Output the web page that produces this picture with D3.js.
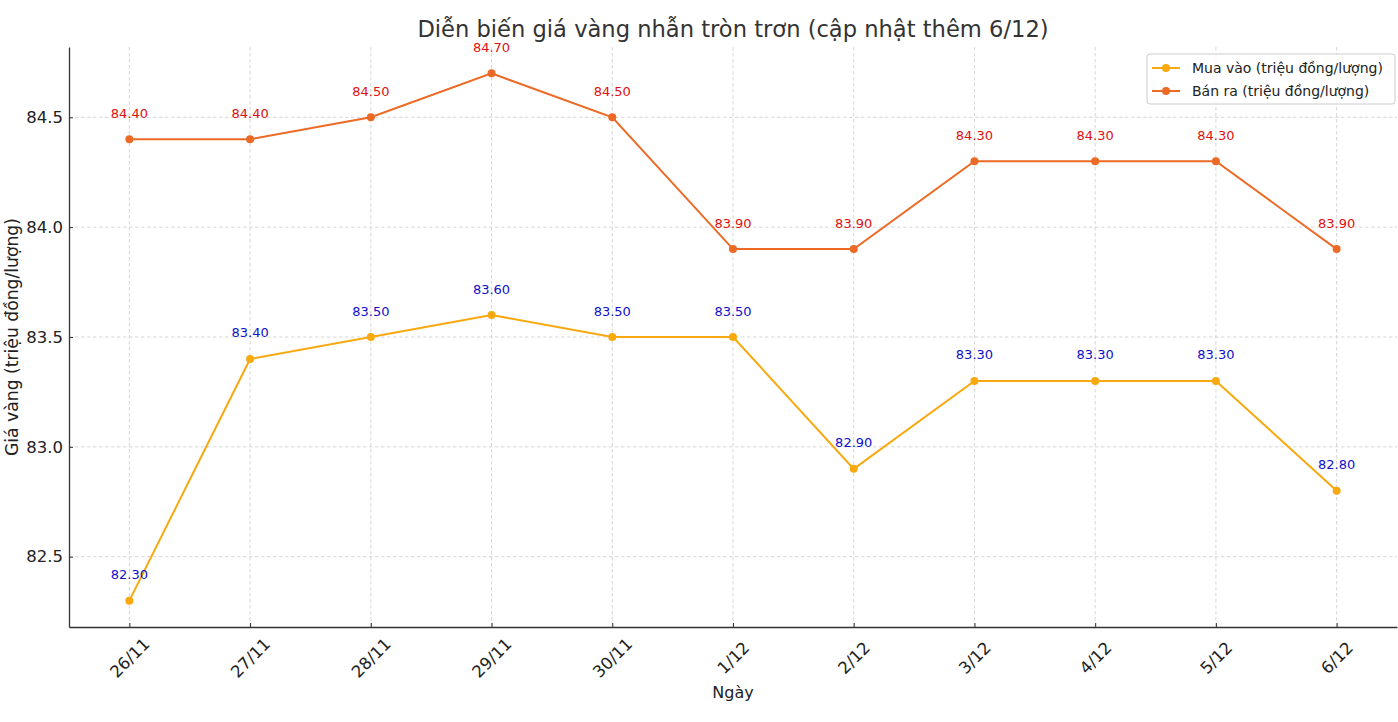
<!DOCTYPE html>
<html>
<head>
<meta charset="utf-8">
<script src="https://cdn.jsdelivr.net/npm/d3@7"></script>
<style>
  body { margin: 0; background: #fff; }
  text { font-family: "DejaVu Sans", sans-serif; }
</style>
</head>
<body>
<svg id="chart" width="1398" height="722"></svg>
<script>
const categories = ["26/11","27/11","28/11","29/11","30/11","1/12","2/12","3/12","4/12","5/12","6/12"];
const buyValues = [82.3, 83.4, 83.5, 83.6, 83.5, 83.5, 82.9, 83.3, 83.3, 83.3, 82.8];
const sellValues = [84.4, 84.4, 84.5, 84.7, 84.5, 83.9, 83.9, 84.3, 84.3, 84.3, 83.9];
const yTicks = [82.5, 83.0, 83.5, 84.0, 84.5];
const seriesNames = ["Mua vào (triệu đồng/lượng)", "Bán ra (triệu đồng/lượng)"];
const titleText = "Diễn biến giá vàng nhẫn tròn trơn (cập nhật thêm 6/12)";
const xLabel = "Ngày";
const yLabel = "Giá vàng (triệu đồng/lượng)";

const svg = d3.select("#chart");
const m = {left: 69, right: 1397, top: 47, bottom: 627};

const x = d3.scaleLinear().domain([-0.5, categories.length - 0.5]).range([m.left, m.right]);
const allV = buyValues.concat(sellValues);
const vmin = d3.min(allV), vmax = d3.max(allV), pad = (vmax - vmin) * 0.05;
const y = d3.scaleLinear().domain([vmin - pad, vmax + pad]).range([m.bottom, m.top]);

// grid
const grid = svg.append("g");
categories.forEach((c, i) => {
  grid.append("line").attr("x1", x(i)).attr("x2", x(i)).attr("y1", m.top).attr("y2", m.bottom)
    .attr("stroke", "#cccccc").attr("stroke-width", 0.8).attr("stroke-dasharray", "3.5,2.5");
});
yTicks.forEach(t => {
  grid.append("line").attr("x1", m.left).attr("x2", m.right).attr("y1", y(t)).attr("y2", y(t))
    .attr("stroke", "#cccccc").attr("stroke-width", 0.8).attr("stroke-dasharray", "3.5,2.5");
});

// axes
const xAxis = d3.axisBottom(x).tickValues(d3.range(categories.length))
  .tickFormat(i => categories[i]).tickSizeInner(-4).tickSizeOuter(0).tickPadding(8);
const gx = svg.append("g").attr("transform", `translate(0,${m.bottom})`).call(xAxis);
gx.select(".domain").attr("stroke", "#333").attr("stroke-width", 1.3);
gx.selectAll(".tick line").attr("stroke", "#333");
gx.selectAll(".tick text").attr("font-size", 16.5).attr("fill", "#222")
  .attr("text-anchor", "middle").attr("dy", null).attr("y", 0)
  .attr("transform", "translate(0,31) rotate(-45)")
  .attr("dominant-baseline", "central");

const yAxis = d3.axisLeft(y).tickValues(yTicks).tickFormat(d3.format(".1f"))
  .tickSizeInner(-4).tickSizeOuter(0).tickPadding(6);
const gy = svg.append("g").attr("transform", `translate(${m.left},0)`).call(yAxis);
gy.select(".domain").attr("stroke", "#333").attr("stroke-width", 1.3);
gy.selectAll(".tick line").attr("stroke", "#333");
gy.selectAll(".tick text").attr("font-size", 16.5).attr("fill", "#222");

// series
const series = [
  {name: seriesNames[0], values: buyValues, color: "#F8A90F", label: "#1010CC"},
  {name: seriesNames[1], values: sellValues, color: "#EC6A25", label: "#E01010"}
];
const line = d3.line().x((d, i) => x(i)).y(d => y(d));
series.forEach(s => {
  svg.append("path").datum(s.values).attr("d", line).attr("fill", "none")
    .attr("stroke", s.color).attr("stroke-width", 2);
  svg.append("g").selectAll("circle").data(s.values).join("circle")
    .attr("cx", (d, i) => x(i)).attr("cy", d => y(d)).attr("r", 4).attr("fill", s.color);
  svg.append("g").selectAll("text").data(s.values).join("text")
    .attr("x", (d, i) => x(i)).attr("y", d => y(d) - 26)
    .attr("text-anchor", "middle").attr("dominant-baseline", "central")
    .attr("font-size", 13).attr("fill", s.label).text(d => d.toFixed(2));
});

// title and labels
svg.append("text").attr("x", 733).attr("y", 29).attr("text-anchor", "middle")
  .attr("dominant-baseline", "central").attr("font-size", 22.6).attr("fill", "#333").text(titleText);
svg.append("text").attr("x", 733).attr("y", 692).attr("text-anchor", "middle")
  .attr("dominant-baseline", "central").attr("font-size", 16).attr("fill", "#222").text(xLabel);
svg.append("text").attr("transform", `translate(12,${(m.top + m.bottom) / 2}) rotate(-90)`)
  .attr("text-anchor", "middle").attr("dominant-baseline", "central")
  .attr("font-size", 17.2).attr("fill", "#222").text(yLabel);

// legend
const lg = svg.append("g");
lg.append("rect").attr("x", 1147).attr("y", 54).attr("width", 248).attr("height", 50)
  .attr("rx", 3).attr("fill", "#fff").attr("fill-opacity", 0.8).attr("stroke", "#ccc");
series.forEach((s, i) => {
  const ly = 68 + i * 23;
  lg.append("line").attr("x1", 1152).attr("x2", 1180).attr("y1", ly).attr("y2", ly)
    .attr("stroke", s.color).attr("stroke-width", 2);
  lg.append("circle").attr("cx", 1166).attr("cy", ly).attr("r", 4).attr("fill", s.color);
  lg.append("text").attr("x", 1192).attr("y", ly).attr("dominant-baseline", "central")
    .attr("font-size", 14).attr("fill", "#222").text(s.name);
});
</script>
</body>
</html>
